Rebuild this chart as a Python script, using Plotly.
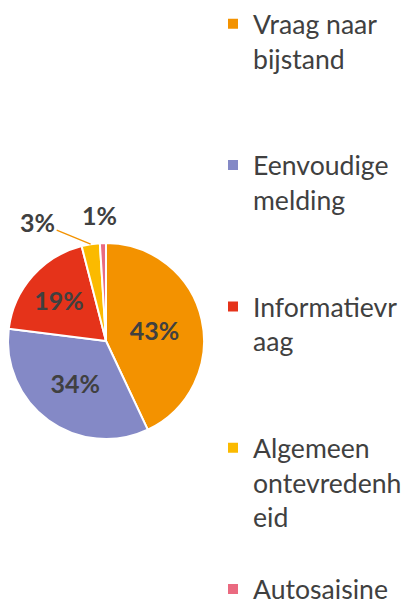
import math
import plotly.graph_objects as go

labels = ["Vraag naar bijstand", "Eenvoudige melding", "Informatievraag",
          "Algemeen ontevredenheid", "Autosaisine"]
legend_text = ["Vraag naar<br>bijstand<br> <br> ", "Eenvoudige<br>melding<br> <br> ",
               "Informatievr<br>aag<br> <br> ", "Algemeen<br>ontevredenh<br>eid<br> ",
               "Autosaisine"]
values = [43, 34, 19, 3, 1]
colors = ["#F39200", "#8489C6", "#E5331A", "#FBBA00", "#EA6A80"]
text_pos = ["inside", "inside", "inside", "none", "none"]

W, H = 410, 601
dom_x = [8 / W, 204 / W]
dom_y = [162 / H, 358 / H]
label_font = dict(family="Lato", size=25, color="#404040", weight="bold")

fig = go.Figure(go.Pie(
    labels=legend_text,
    values=values,
    sort=False,
    direction="clockwise",
    rotation=0,
    marker=dict(colors=colors, line=dict(color="white", width=2)),
    texttemplate="%{percent:.0%}",
    textposition=text_pos,
    insidetextorientation="horizontal",
    textfont=label_font,
    domain=dict(x=dom_x, y=dom_y),
    hoverinfo="skip",
))

# labels of the two small slices, anchored at each slice's outer edge
# (computed from the data) and moved outward like the original
total = sum(values)
cx = (dom_x[0] + dom_x[1]) / 2
cy = (dom_y[0] + dom_y[1]) / 2
r_px = min((dom_x[1] - dom_x[0]) * W, (dom_y[1] - dom_y[0]) * H) / 2


def edge_point(i):
    cum = sum(values[:i]) + values[i] / 2
    theta = 2 * math.pi * cum / total
    return cx + r_px * math.sin(theta) / W, cy + r_px * math.cos(theta) / H


# "Algemeen ontevredenheid": label with orange leader line
px, py = edge_point(3)
fig.add_annotation(
    x=px, y=py, xref="paper", yref="paper",
    text=f"{round(100 * values[3] / total)}%", showarrow=True, arrowhead=0,
    arrowwidth=1.3, arrowcolor="#F39200", ax=-53, ay=-22, standoff=0,
    font=label_font,
)
# "Autosaisine": label just above the slice
px, py = edge_point(4)
fig.add_annotation(
    x=px, y=py, xref="paper", yref="paper",
    xanchor="center", yanchor="middle",
    text=f"{round(100 * values[4] / total)}%", showarrow=False,
    xshift=-3, yshift=28, font=label_font,
)

fig.update_layout(
    width=W, height=H,
    margin=dict(l=0, r=0, t=0, b=0),
    paper_bgcolor="white",
    showlegend=True,
    legend=dict(
        x=213 / W, y=1, xanchor="left", yanchor="top",
        valign="top",
        font=dict(family="Lato", size=26.6, color="#404040"),
        itemwidth=30,
        bgcolor="rgba(0,0,0,0)",
    ),
)

fig.write_html("out.html", config={"staticPlot": True},
               post_script="document.body.style.margin='0';")
